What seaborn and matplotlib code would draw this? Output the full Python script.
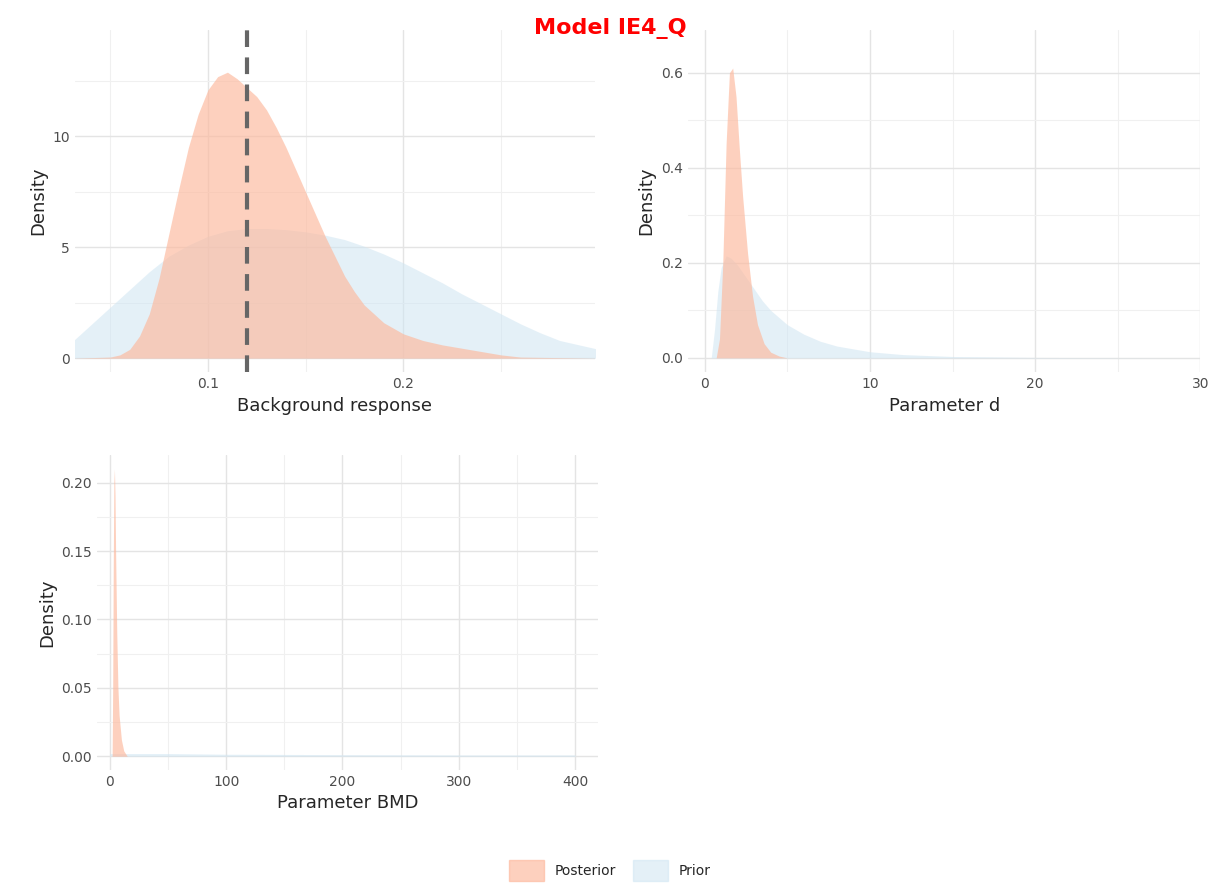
import numpy as np
import matplotlib.pyplot as plt
import seaborn as sns
from matplotlib.ticker import MultipleLocator
from matplotlib.patches import Patch

# panel 1: background response
bg_post_x = [0.03, 0.05, 0.055, 0.06, 0.065, 0.07, 0.075, 0.08, 0.085, 0.09, 0.095, 0.10, 0.105, 0.11,
             0.115, 0.12, 0.125, 0.13, 0.135, 0.14, 0.145, 0.15, 0.155, 0.16, 0.165, 0.17, 0.175,
             0.18, 0.19, 0.20, 0.21, 0.22, 0.23, 0.24, 0.25, 0.26, 0.30]
bg_post_y = [0.0, 0.05, 0.15, 0.4, 1.0, 2.0, 3.6, 5.6, 7.6, 9.5, 11.0, 12.1, 12.7, 12.9,
             12.6, 12.2, 11.8, 11.2, 10.4, 9.5, 8.5, 7.5, 6.5, 5.5, 4.6, 3.7, 3.0,
             2.4, 1.6, 1.1, 0.8, 0.6, 0.45, 0.3, 0.15, 0.05, 0.0]
bg_prior_x = [0.03, 0.04, 0.05, 0.06, 0.07, 0.08, 0.09, 0.10, 0.11, 0.12, 0.13, 0.14, 0.15, 0.16,
              0.17, 0.18, 0.19, 0.20, 0.21, 0.22, 0.23, 0.24, 0.25, 0.26, 0.27, 0.28, 0.30]
bg_prior_y = [0.7, 1.5, 2.3, 3.1, 3.9, 4.6, 5.1, 5.5, 5.75, 5.85, 5.85, 5.8, 5.7, 5.55,
              5.35, 5.05, 4.7, 4.3, 3.85, 3.4, 2.9, 2.45, 2.0, 1.55, 1.15, 0.8, 0.4]
bg_line = 0.12

# panel 2: parameter d
d_post_x = [0.7, 0.9, 1.1, 1.3, 1.5, 1.7, 1.9, 2.1, 2.3, 2.6, 2.9, 3.2, 3.6, 4.0, 4.5, 5.0]
d_post_y = [0.0, 0.04, 0.2, 0.45, 0.6, 0.61, 0.55, 0.44, 0.34, 0.22, 0.13, 0.07, 0.03, 0.012, 0.004, 0.0]
d_prior_x = [0.4, 0.6, 0.8, 1.0, 1.3, 1.6, 2.0, 2.5, 3.0, 3.5, 4, 5, 6, 7, 8, 10, 12, 15, 20, 30]
d_prior_y = [0.0, 0.06, 0.14, 0.19, 0.215, 0.21, 0.195, 0.17, 0.145, 0.12, 0.1, 0.07, 0.05, 0.035,
             0.025, 0.013, 0.007, 0.003, 0.001, 0.0]

# panel 3: parameter BMD
bmd_post_x = [2, 2.5, 3, 3.5, 4, 4.5, 5, 6, 7, 8, 10, 12, 15]
bmd_post_y = [0.0, 0.05, 0.14, 0.2, 0.21, 0.19, 0.15, 0.09, 0.05, 0.03, 0.012, 0.004, 0.0]
bmd_prior_x = [0, 50, 100, 200, 300, 400]
bmd_prior_y = [0.002, 0.002, 0.0015, 0.0012, 0.001, 0.001]

post_col = "#FDB89C"
prior_col = "#CFE5F2"

sns.set_theme(style="whitegrid")
plt.rcParams['font.family'] = ['DejaVu Sans']
fig = plt.figure(figsize=(12.2, 8.84), dpi=100)

ax1 = fig.add_axes([0.0615, 0.579, 0.426, 0.387])
ax2 = fig.add_axes([0.564, 0.579, 0.42, 0.387])
ax3 = fig.add_axes([0.0795, 0.129, 0.411, 0.356])

def panel(ax, px, py, qx, qy, xlabel, xlim, ylim, xmaj, ymaj):
    ax.fill_between(qx, qy, color=prior_col, alpha=0.55, lw=0)
    ax.fill_between(px, py, color=post_col, alpha=0.65, lw=0)
    ax.set_xlim(xlim)
    ax.set_ylim(ylim)
    ax.xaxis.set_major_locator(MultipleLocator(xmaj))
    ax.xaxis.set_minor_locator(MultipleLocator(xmaj / 2))
    ax.yaxis.set_major_locator(MultipleLocator(ymaj))
    ax.yaxis.set_minor_locator(MultipleLocator(ymaj / 2))
    ax.grid(which='major', color='#E4E4E4', lw=1.0)
    ax.grid(which='minor', color='#F0F0F0', lw=0.8)
    ax.set_facecolor('white')
    for s in ax.spines.values():
        s.set_visible(False)
    ax.tick_params(labelsize=10, colors='#4D4D4D', length=0)
    ax.set_xlabel(xlabel, fontsize=13)
    ax.set_ylabel("Density", fontsize=13)

panel(ax1, bg_post_x, bg_post_y, bg_prior_x, bg_prior_y, "Background response",
      (0.032, 0.298), (-0.63, 14.8), 0.1, 5)
ax1.axvline(bg_line, color='#666666', ls=(0, (4, 2.5)), lw=3)
panel(ax2, d_post_x, d_post_y, d_prior_x, d_prior_y, "Parameter d",
      (-1, 30), (-0.03, 0.69), 10, 0.2)
panel(ax3, bmd_post_x, bmd_post_y, bmd_prior_x, bmd_prior_y, "Parameter BMD",
      (-11, 420), (-0.01, 0.22), 100, 0.05)
ax3.yaxis.set_major_formatter(plt.FormatStrFormatter('%.2f'))
ax3.yaxis.set_minor_locator(MultipleLocator(0.025))
ax2.yaxis.set_major_formatter(plt.FormatStrFormatter('%.1f'))

fig.text(0.5, 0.968, "Model IE4_Q", color='red', fontsize=16, fontweight='bold',
         ha='center', va='center')
handles = [Patch(color=post_col, alpha=0.65, label='Posterior'),
           Patch(color=prior_col, alpha=0.55, label='Prior')]
fig.legend(handles=handles, loc='center', bbox_to_anchor=(0.5, 0.015), ncol=2,
           frameon=False, fontsize=10, handlelength=2.5, handleheight=2.0,
           columnspacing=1.2)

fig.savefig("out.png", dpi=100)
